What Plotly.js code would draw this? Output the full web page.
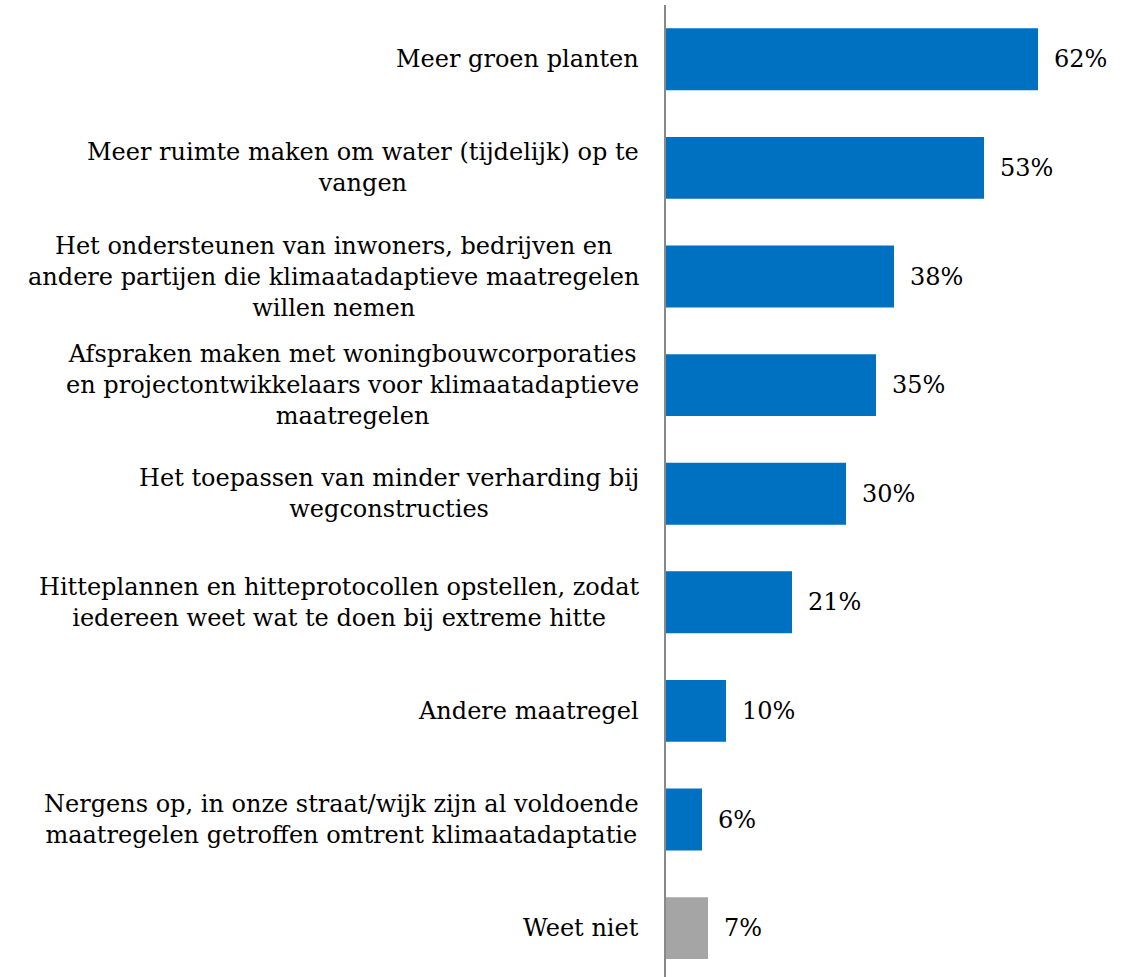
<!DOCTYPE html>
<html>
<head>
<meta charset="utf-8">
<script src="https://cdn.plot.ly/plotly-3.0.1.min.js"></script>
<style>html,body{margin:0;padding:0;background:#fff;}#chart{width:1132px;height:977px;}</style>
</head>
<body>
<div id="chart"></div>
<script>
const categories = [
  "Meer groen planten",
  "Meer ruimte maken om water (tijdelijk) op te<br>vangen",
  "Het ondersteunen van inwoners, bedrijven en<br>andere partijen die klimaatadaptieve maatregelen<br>willen nemen",
  "Afspraken maken met woningbouwcorporaties<br>en projectontwikkelaars voor klimaatadaptieve<br>maatregelen",
  "Het toepassen van minder verharding bij<br>wegconstructies",
  "Hitteplannen en hitteprotocollen opstellen, zodat<br>iedereen weet wat te doen bij extreme hitte",
  "Andere maatregel",
  "Nergens op, in onze straat/wijk zijn al voldoende<br>maatregelen getroffen omtrent klimaatadaptatie",
  "Weet niet"
];
const values = [62, 53, 38, 35, 30, 21, 10, 6, 7];
const valueLabels = ["62%", "53%", "38%", "35%", "30%", "21%", "10%", "6%", "7%"];
const barColors = ["#0070C0","#0070C0","#0070C0","#0070C0","#0070C0","#0070C0","#0070C0","#0070C0","#A5A5A5"];

const ids = categories.map((c, i) => "c" + i);
const FONT = "DejaVu Serif";
const FS = 24;

const trace = {
  type: "bar",
  orientation: "h",
  y: ids,
  x: values,
  marker: {color: barColors, line: {width: 0}},
  hoverinfo: "skip"
};

const annotations = [];
categories.forEach((c, i) => {
  annotations.push({
    xref: "paper", yref: "y", x: 0, y: ids[i],
    text: c, showarrow: false, xanchor: "right", yanchor: "middle",
    align: "center", xshift: -25,
    font: {family: FONT, size: FS, color: "#000"}
  });
  annotations.push({
    xref: "x", yref: "y", x: values[i], y: ids[i],
    text: valueLabels[i], showarrow: false, xanchor: "left", yanchor: "middle",
    xshift: 14,
    font: {family: FONT, size: FS, color: "#000"}
  });
});

const layout = {
  width: 1132, height: 977,
  margin: {l: 666, r: 0, t: 5, b: 0, pad: 0},
  paper_bgcolor: "#fff", plot_bgcolor: "#fff",
  font: {family: FONT},
  showlegend: false,
  bargap: 0.43,
  xaxis: {range: [0, 466/6.0], visible: false, fixedrange: true},
  yaxis: {
    type: "category", range: [8.45, -0.5],
    showticklabels: false, ticks: "", showgrid: false, zeroline: false,
    showline: true, linecolor: "#898989", linewidth: 2, fixedrange: true
  },
  annotations: annotations
};

Plotly.newPlot("chart", [trace], layout, {staticPlot: true, displayModeBar: false});
</script>
</body>
</html>
